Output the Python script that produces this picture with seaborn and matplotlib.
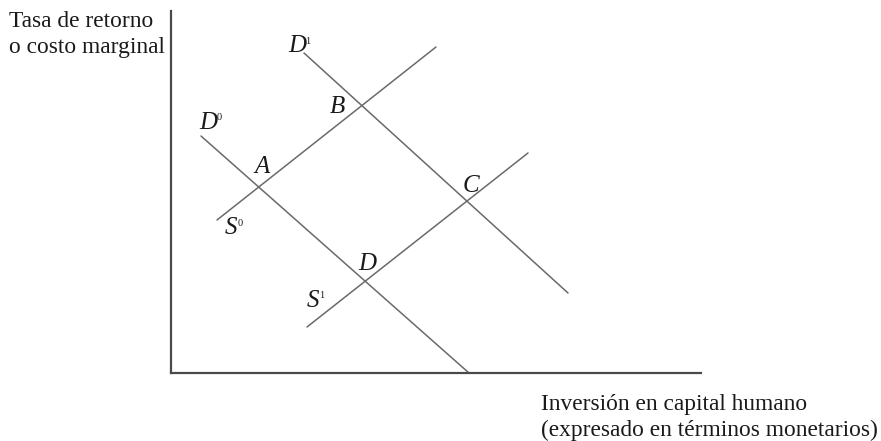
import pandas as pd
import matplotlib.pyplot as plt
import seaborn as sns

# Curvas de oferta y demanda (extremos de cada recta)
curva = ['D0', 'D0', 'D1', 'D1', 'S0', 'S0', 'S1', 'S1']
inversion = [30, 298, 133, 397, 46, 265, 136, 357]
tasa = [237, 0, 320, 80, 153, 326, 46, 220]

# Etiquetas de puntos de equilibrio
puntos = ['A', 'B', 'C', 'D']
puntos_x = [91, 166, 300, 196]
puntos_y = [206, 266, 187, 109]

# Etiquetas de curvas (letra + superindice)
letras = ['D', 'D', 'S', 'S']
sup = ['0', '1', '0', '1']
letras_x = [37, 126, 60, 142]
letras_y = [250, 327, 145, 72]

df = pd.DataFrame({'Curva': curva, 'Inversion': inversion, 'Tasa': tasa})

sns.set_style('white')
plt.rcParams['font.family'] = ['Liberation Serif', 'DejaVu Serif']

fig = plt.figure(figsize=(8.81, 4.41), dpi=100)
ax = fig.add_axes([171 / 881, 68 / 441, 530 / 881, 362 / 441])

sns.lineplot(data=df, x='Inversion', y='Tasa', units='Curva', estimator=None,
             sort=False, color='#6a6a6a', linewidth=1.1, ax=ax)

for p, x, y in zip(puntos, puntos_x, puntos_y):
    ax.text(x, y, p, fontsize=18, style='italic', ha='center', va='center', color='#1a1a1a')

for l, s, x, y in zip(letras, sup, letras_x, letras_y):
    ax.text(x, y, l, fontsize=18, style='italic', ha='center', va='center', color='#1a1a1a')
    dx = 11 if l == 'D' else 9
    ax.text(x + dx, y + 5, s, fontsize=7.5, ha='center', va='center', color='#1a1a1a')

ax.set_xlim(0, 530)
ax.set_ylim(0, 362)
ax.set_xticks([])
ax.set_yticks([])
ax.set_xlabel('')
ax.set_ylabel('')
sns.despine(ax=ax)
for s in ['left', 'bottom']:
    ax.spines[s].set_color('#4a4a4a')
    ax.spines[s].set_linewidth(1.6)

fig.text(9 / 881, 1 - 11 / 441, 'Tasa de retorno\no costo marginal', fontsize=16.8,
         ha='left', va='top', color='#1a1a1a', linespacing=1.3)
fig.text(541 / 881, 1 - 394 / 441, 'Inversión en capital humano\n(expresado en términos monetarios)',
         fontsize=16.8, ha='left', va='top', color='#1a1a1a', linespacing=1.3)

fig.savefig('out.png', dpi=100)
